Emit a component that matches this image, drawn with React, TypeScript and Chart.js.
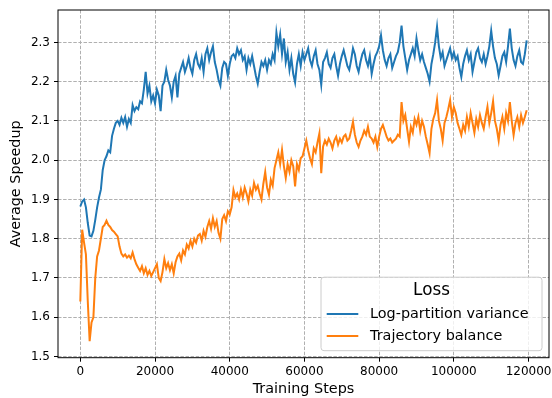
import React, { useEffect, useRef } from "react";
import { Chart, registerables } from "chart.js";

Chart.register(...registerables);

const STEP_INTERVAL = 500;
const X_TICKS = [0, 20000, 40000, 60000, 80000, 100000, 120000];
const Y_TICKS = [1.5, 1.6, 1.7, 1.8, 1.9, 2.0, 2.1, 2.2, 2.3];
const SERIES_LABELS = ["Log-partition variance", "Trajectory balance"];
const LEGEND_TITLE = "Loss";
const X_TITLE = "Training Steps";
const Y_TITLE = "Average Speedup";

const logPartition = [
  1.882, 1.895, 1.9, 1.88, 1.84, 1.808, 1.806, 1.82, 1.848, 1.88,
  1.905, 1.925, 1.975, 2.0, 2.01, 2.025, 2.02, 2.062, 2.08, 2.095,
  2.1, 2.09, 2.108, 2.095, 2.11, 2.085, 2.105, 2.095, 2.14, 2.125,
  2.135, 2.13, 2.15, 2.145, 2.18, 2.225, 2.17, 2.19, 2.15, 2.165,
  2.145, 2.18, 2.165, 2.125, 2.19, 2.2, 2.23, 2.205, 2.19, 2.16,
  2.2, 2.215, 2.16, 2.22, 2.235, 2.25, 2.225, 2.24, 2.26, 2.235,
  2.22, 2.255, 2.27, 2.245, 2.235, 2.26, 2.225, 2.27, 2.285, 2.255,
  2.275, 2.29, 2.25, 2.23, 2.205, 2.19, 2.235, 2.25, 2.245, 2.215,
  2.245, 2.265, 2.27, 2.26, 2.285, 2.27, 2.28, 2.255, 2.265, 2.23,
  2.26, 2.245, 2.265, 2.24, 2.215, 2.195, 2.225, 2.25, 2.24, 2.255,
  2.23, 2.255, 2.245, 2.27, 2.255, 2.325, 2.29, 2.32, 2.27, 2.31,
  2.25, 2.275, 2.23, 2.26, 2.22, 2.198, 2.245, 2.27, 2.24, 2.275,
  2.255, 2.27, 2.285, 2.255, 2.24, 2.265, 2.28, 2.245, 2.23, 2.192,
  2.25, 2.26, 2.275, 2.245, 2.235, 2.26, 2.27, 2.24, 2.215, 2.245,
  2.265, 2.28, 2.26, 2.24, 2.23, 2.255, 2.285, 2.27, 2.24, 2.225,
  2.25, 2.27, 2.28, 2.255, 2.24, 2.265, 2.22, 2.245, 2.265, 2.275,
  2.29, 2.318, 2.28, 2.255, 2.24, 2.26, 2.27, 2.235, 2.25, 2.265,
  2.275, 2.3, 2.343, 2.29, 2.26, 2.23, 2.255, 2.27, 2.285, 2.265,
  2.31, 2.28, 2.255, 2.27, 2.25, 2.235, 2.22, 2.2, 2.245, 2.27,
  2.3, 2.34, 2.29, 2.26, 2.275, 2.24, 2.255, 2.27, 2.285, 2.26,
  2.275, 2.255, 2.265, 2.235, 2.212, 2.245, 2.265, 2.28, 2.255, 2.27,
  2.225, 2.25, 2.275, 2.285, 2.26, 2.25, 2.27, 2.245, 2.265, 2.29,
  2.33, 2.29, 2.26, 2.245, 2.216, 2.24, 2.265, 2.275, 2.25, 2.29,
  2.335, 2.285, 2.255, 2.24, 2.265, 2.28, 2.25, 2.245, 2.27, 2.305,
];

const trajectoryBalance = [
  1.64, 1.823, 1.79, 1.76, 1.64, 1.539, 1.587, 1.6, 1.7, 1.755,
  1.77, 1.8, 1.83, 1.835, 1.846, 1.835, 1.83, 1.822, 1.818, 1.812,
  1.806, 1.78, 1.762, 1.755, 1.76, 1.752, 1.757, 1.75, 1.765, 1.748,
  1.735, 1.726, 1.718, 1.73, 1.712, 1.725, 1.708, 1.718, 1.705, 1.715,
  1.725, 1.735, 1.7, 1.692, 1.715, 1.748, 1.725, 1.738, 1.72, 1.735,
  1.712, 1.74, 1.755, 1.762, 1.745, 1.77, 1.76, 1.785, 1.775, 1.795,
  1.78, 1.8, 1.79, 1.808, 1.812, 1.795, 1.82, 1.805, 1.83, 1.845,
  1.825, 1.852, 1.83, 1.845, 1.815, 1.8, 1.85, 1.86, 1.845, 1.87,
  1.862, 1.88, 1.924, 1.905, 1.915, 1.9, 1.925, 1.905, 1.93, 1.915,
  1.895, 1.925, 1.91, 1.942, 1.925, 1.935, 1.915, 1.9, 1.94, 1.97,
  1.93, 1.912, 1.95, 1.935, 1.98, 2.0, 2.02, 1.99, 2.026, 1.985,
  1.955, 1.99, 1.97, 2.0, 1.985, 1.933, 1.99, 1.975, 2.005, 2.01,
  2.03, 2.05, 2.025, 2.005, 1.99, 2.03, 2.02, 2.045, 2.068, 1.967,
  2.035, 2.05, 2.04, 2.055, 2.045, 2.03, 2.05, 2.06, 2.04, 2.055,
  2.045, 2.06, 2.065, 2.05, 2.055, 2.075, 2.098, 2.065, 2.045, 2.034,
  2.05, 2.06, 2.075, 2.065, 2.085, 2.06, 2.055, 2.045, 2.06, 2.034,
  2.06, 2.08, 2.09, 2.075, 2.06, 2.05, 2.055, 2.045, 2.05, 2.055,
  2.065, 2.06, 2.148, 2.1, 2.115, 2.08, 2.047, 2.085, 2.07, 2.105,
  2.09, 2.11, 2.075, 2.1, 2.085, 2.06, 2.04, 2.018, 2.08, 2.105,
  2.12, 2.153, 2.1, 2.08, 2.05, 2.095, 2.11, 2.13, 2.153, 2.11,
  2.135, 2.12, 2.095, 2.08, 2.064, 2.09, 2.075, 2.11, 2.085, 2.12,
  2.095, 2.07, 2.105, 2.085, 2.115, 2.095, 2.08, 2.11, 2.136, 2.095,
  2.12, 2.15, 2.1, 2.08, 2.05, 2.09, 2.11, 2.08, 2.12, 2.1,
  2.148, 2.1, 2.064, 2.095, 2.11, 2.085, 2.115, 2.095, 2.11, 2.127,
];

const COLORS = ["#1f77b4", "#ff7f0e"];
const FONT = "'DejaVu Sans', sans-serif";

const toPoints = (vals: number[]) =>
  vals.map((v, i) => ({ x: i * STEP_INTERVAL, y: v }));

const framePlugin = {
  id: "frameAndLegend",
  afterDatasetsDraw(chart: any) {
    const { ctx, chartArea: ca } = chart;
    ctx.save();
    ctx.strokeStyle = "#000";
    ctx.lineWidth = 1;
    ctx.setLineDash([]);
    ctx.strokeRect(ca.left, ca.top, ca.right - ca.left, ca.bottom - ca.top);

    const w = 221;
    const h = 73.5;
    const bx = ca.right - 7 - w;
    const by = ca.bottom - 7 - h;
    const r = 3;
    ctx.beginPath();
    ctx.moveTo(bx + r, by);
    ctx.lineTo(bx + w - r, by);
    ctx.arcTo(bx + w, by, bx + w, by + r, r);
    ctx.lineTo(bx + w, by + h - r);
    ctx.arcTo(bx + w, by + h, bx + w - r, by + h, r);
    ctx.lineTo(bx + r, by + h);
    ctx.arcTo(bx, by + h, bx, by + h - r, r);
    ctx.lineTo(bx, by + r);
    ctx.arcTo(bx, by, bx + r, by, r);
    ctx.closePath();
    ctx.fillStyle = "rgba(255,255,255,0.8)";
    ctx.fill();
    ctx.strokeStyle = "#cccccc";
    ctx.lineWidth = 1;
    ctx.stroke();

    ctx.fillStyle = "#000";
    ctx.textBaseline = "middle";
    ctx.textAlign = "center";
    ctx.font = `16.8px ${FONT}`;
    ctx.fillText(LEGEND_TITLE, bx + w / 2, by + 13);

    ctx.textAlign = "left";
    ctx.font = `14.4px ${FONT}`;
    chart.data.datasets.forEach((ds: any, i: number) => {
      const y = by + 36.7 + i * 22;
      ctx.strokeStyle = ds.borderColor;
      ctx.lineWidth = 2;
      ctx.beginPath();
      ctx.moveTo(bx + 5.7, y);
      ctx.lineTo(bx + 37.3, y);
      ctx.stroke();
      ctx.fillStyle = "#000";
      ctx.fillText(ds.label, bx + 49, y + 0.5);
    });
    ctx.restore();
  },
};

export default function App() {
  const ref = useRef<HTMLCanvasElement>(null);

  useEffect(() => {
    if (!ref.current) return;
    const chart = new Chart(ref.current, {
      type: "line",
      data: {
        datasets: [
          {
            label: SERIES_LABELS[0],
            data: toPoints(logPartition),
            borderColor: COLORS[0],
            backgroundColor: COLORS[0],
            borderWidth: 2,
            pointRadius: 0,
            tension: 0,
          },
          {
            label: SERIES_LABELS[1],
            data: toPoints(trajectoryBalance),
            borderColor: COLORS[1],
            backgroundColor: COLORS[1],
            borderWidth: 2,
            pointRadius: 0,
            tension: 0,
          },
        ],
      },
      options: {
        responsive: false,
        animation: false,
        events: [],
        layout: { padding: { left: 0, right: 3, top: 10, bottom: 0 } },
        plugins: {
          legend: { display: false },
          tooltip: { enabled: false },
        },
        scales: {
          x: {
            type: "linear",
            min: -5975,
            max: 125475,
            afterBuildTicks: (axis: any) => {
              axis.ticks = X_TICKS.map((v) => ({ value: v }));
            },
            afterFit: (scale: any) => {
              scale.height = 40.3;
              scale.paddingLeft = 0;
              scale.paddingRight = 0;
            },
            ticks: {
              callback: (v: any) => String(v),
              color: "#000",
              font: { family: FONT, size: 12 },
              padding: 3,
              maxRotation: 0,
              autoSkip: false,
            },
            grid: {
              color: "#b0b0b0",
              lineWidth: 1,
              tickColor: "#000",
              tickLength: 4,
              tickWidth: 1,
              tickBorderDash: [],
            },
            border: { display: false, dash: [3.5, 1.6] },
            title: {
              display: true,
              text: X_TITLE,
              color: "#000",
              font: { family: FONT, size: 14.4 },
              padding: { top: 0, bottom: 0 },
            },
          },
          y: {
            type: "linear",
            min: 1.497,
            max: 2.3825,
            afterBuildTicks: (axis: any) => {
              axis.ticks = Y_TICKS.map((v) => ({ value: v }));
            },
            afterFit: (scale: any) => {
              scale.width = 58;
              scale.paddingTop = 0;
              scale.paddingBottom = 0;
            },
            ticks: {
              callback: (v: any) => Number(v).toFixed(1),
              color: "#000",
              font: { family: FONT, size: 12 },
              padding: 4,
              autoSkip: false,
            },
            grid: {
              color: "#b0b0b0",
              lineWidth: 1,
              tickColor: "#000",
              tickLength: 4,
              tickWidth: 1,
              tickBorderDash: [],
            },
            border: { display: false, dash: [3.5, 1.6] },
            title: {
              display: true,
              text: Y_TITLE,
              color: "#000",
              font: { family: FONT, size: 14.4 },
              padding: { top: 8, bottom: 0 },
            },
          },
        },
      },
      plugins: [framePlugin],
    });
    return () => chart.destroy();
  }, []);

  return (
    <div style={{ position: "fixed", left: 0, top: 0, width: 552, height: 398, background: "#fff" }}>
      <canvas ref={ref} width={552} height={398} style={{ display: "block" }} />
    </div>
  );
}
